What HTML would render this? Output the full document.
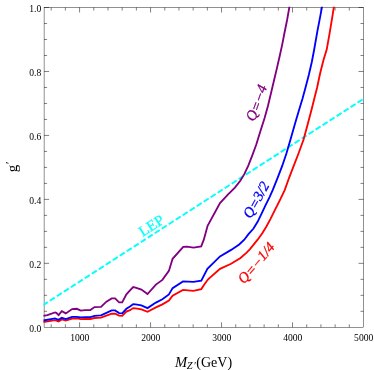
<!DOCTYPE html>
<html><head><meta charset="utf-8"><title>plot</title>
<style>
html,body{margin:0;padding:0;background:#fff;}
svg{display:block;will-change:transform;font-family:"Liberation Serif",serif;}
</style></head>
<body>
<svg width="374" height="370" viewBox="0 0 374 370">
<rect width="374" height="370" fill="#fff"/>
<defs><clipPath id="c"><rect x="43.300000000000004" y="6.7" width="320.2" height="320.6"/></clipPath></defs>
<g fill="none" stroke="#000" stroke-width="0.43">
<rect x="44.1" y="7.5" width="319.4" height="319.8"/>
<path d="M51.20 327.30 v-3.00 M51.20 7.50 v3.00 M65.39 327.30 v-3.00 M65.39 7.50 v3.00 M79.59 327.30 v-5.00 M79.59 7.50 v5.00 M93.78 327.30 v-3.00 M93.78 7.50 v3.00 M107.98 327.30 v-3.00 M107.98 7.50 v3.00 M122.18 327.30 v-3.00 M122.18 7.50 v3.00 M136.37 327.30 v-3.00 M136.37 7.50 v3.00 M150.57 327.30 v-5.00 M150.57 7.50 v5.00 M164.76 327.30 v-3.00 M164.76 7.50 v3.00 M178.96 327.30 v-3.00 M178.96 7.50 v3.00 M193.15 327.30 v-3.00 M193.15 7.50 v3.00 M207.35 327.30 v-3.00 M207.35 7.50 v3.00 M221.54 327.30 v-5.00 M221.54 7.50 v5.00 M235.74 327.30 v-3.00 M235.74 7.50 v3.00 M249.94 327.30 v-3.00 M249.94 7.50 v3.00 M264.13 327.30 v-3.00 M264.13 7.50 v3.00 M278.33 327.30 v-3.00 M278.33 7.50 v3.00 M292.52 327.30 v-5.00 M292.52 7.50 v5.00 M306.72 327.30 v-3.00 M306.72 7.50 v3.00 M320.91 327.30 v-3.00 M320.91 7.50 v3.00 M335.11 327.30 v-3.00 M335.11 7.50 v3.00 M349.30 327.30 v-3.00 M349.30 7.50 v3.00 M44.10 311.31 h3.00 M363.50 311.31 h-3.00 M44.10 295.32 h3.00 M363.50 295.32 h-3.00 M44.10 279.33 h3.00 M363.50 279.33 h-3.00 M44.10 263.34 h5.00 M363.50 263.34 h-5.00 M44.10 247.35 h3.00 M363.50 247.35 h-3.00 M44.10 231.36 h3.00 M363.50 231.36 h-3.00 M44.10 215.37 h3.00 M363.50 215.37 h-3.00 M44.10 199.38 h5.00 M363.50 199.38 h-5.00 M44.10 183.39 h3.00 M363.50 183.39 h-3.00 M44.10 167.40 h3.00 M363.50 167.40 h-3.00 M44.10 151.41 h3.00 M363.50 151.41 h-3.00 M44.10 135.42 h5.00 M363.50 135.42 h-5.00 M44.10 119.43 h3.00 M363.50 119.43 h-3.00 M44.10 103.44 h3.00 M363.50 103.44 h-3.00 M44.10 87.45 h3.00 M363.50 87.45 h-3.00 M44.10 71.46 h5.00 M363.50 71.46 h-5.00 M44.10 55.47 h3.00 M363.50 55.47 h-3.00 M44.10 39.48 h3.00 M363.50 39.48 h-3.00 M44.10 23.49 h3.00 M363.50 23.49 h-3.00 M44.10 7.50 h5.00 M363.50 7.50 h-5.00" stroke-width="0.5"/>
</g>
<g clip-path="url(#c)" fill="none" stroke-linejoin="miter" stroke-miterlimit="3" stroke-linecap="butt">
<path d="M43.300000000000004 304.96 L363.5 98.87" stroke="#00ffff" stroke-width="1.9700000000000002" stroke-dasharray="5.9 2.42" stroke-dashoffset="0.6"/>
<path d="M43.3 322.2 L55.0 320.1 L58.6 321.4 L61.8 319.4 L65.8 320.6 L72.1 318.6 L76.8 318.4 L80.8 319.1 L85.0 319.0 L90.3 319.0 L94.6 318.0 L101.0 317.7 L106.4 315.6 L111.7 313.7 L115.1 313.7 L119.1 315.7 L122.2 315.9 L126.4 311.6 L130.0 310.2 L133.2 308.1 L135.5 308.4 L141.4 309.4 L147.5 311.8 L155.9 307.4 L162.4 304.4 L168.9 300.6 L172.6 295.6 L183.0 289.9 L193.4 290.9 L201.3 289.1 L204.1 284.7 L208.1 279.3 L220.0 268.8 L231.1 263.8 L240.5 258.0 L246.6 252.6 L250.0 249.2 L257.6 239.7 L262.3 233.2 L266.4 226.5 L270.4 219.1 L275.1 209.6 L279.9 200.1 L284.8 189.9 L289.1 177.8 L293.8 165.7 L298.5 153.5 L303.5 139.7 L307.5 125.0 L311.2 111.0 L314.2 99.0 L317.0 88.0 L320.2 73.0 L323.5 60.0 L326.7 49.6 L329.5 33.8 L332.2 17.6 L333.9 6.8 L334.5 3.0" stroke="#ff0000" stroke-width="1.85"/>
<path d="M43.3 320.5 L55.0 318.4 L58.6 319.8 L61.8 317.8 L65.8 319.1 L72.1 316.9 L76.8 316.9 L80.8 317.4 L85.0 317.1 L90.3 317.1 L94.6 315.9 L101.0 315.4 L106.4 312.8 L111.7 310.4 L115.1 310.4 L119.1 313.1 L122.2 313.4 L126.4 308.8 L130.0 306.6 L133.2 304.1 L135.5 304.4 L141.4 305.4 L147.5 308.1 L155.9 302.6 L162.4 299.2 L168.9 294.4 L172.6 288.1 L183.0 281.4 L193.4 281.9 L201.3 280.7 L207.4 268.8 L220.0 256.4 L231.1 249.9 L239.2 244.5 L244.3 239.7 L248.1 234.6 L253.5 228.5 L257.6 221.8 L261.6 213.6 L265.7 204.9 L269.7 196.8 L272.8 189.9 L277.6 177.8 L282.3 165.7 L286.4 153.5 L290.5 139.6 L295.2 123.0 L298.9 110.5 L302.4 99.0 L305.4 88.0 L308.8 75.0 L311.8 62.0 L314.1 50.0 L317.4 31.1 L320.0 17.6 L322.0 6.8 L322.7 3.0" stroke="#0000ff" stroke-width="1.85"/>
<path d="M43.3 315.9 L47.4 315.1 L55.0 312.4 L56.3 312.9 L58.6 315.1 L61.8 311.1 L65.8 313.4 L72.1 309.1 L76.8 308.8 L80.8 310.6 L85.0 310.1 L90.3 310.1 L94.6 307.1 L101.0 306.8 L106.4 301.7 L111.7 298.4 L115.1 298.4 L119.1 302.4 L122.2 302.4 L126.4 294.4 L130.0 290.4 L133.2 287.1 L135.5 287.6 L141.4 289.6 L147.5 294.1 L155.9 284.6 L162.4 279.9 L168.9 270.9 L172.6 258.8 L183.2 246.8 L187.0 246.7 L193.5 247.6 L201.2 246.3 L203.8 239.7 L207.6 225.8 L220.0 203.1 L228.1 194.3 L234.9 187.6 L240.3 180.8 L244.3 174.1 L248.4 165.3 L252.4 155.1 L256.2 144.8 L260.3 131.5 L264.6 118.0 L268.0 105.8 L271.8 89.8 L274.4 78.8 L277.1 67.4 L279.7 56.0 L282.2 44.6 L284.6 32.3 L287.1 20.0 L289.4 6.8 L290.1 3.0" stroke="#800080" stroke-width="1.85"/>
</g>
<g font-size="9.6px" fill="#000"><text x="79.79" y="341.05" text-anchor="middle">1000</text><text x="150.77" y="341.05" text-anchor="middle">2000</text><text x="221.74" y="341.05" text-anchor="middle">3000</text><text x="292.72" y="341.05" text-anchor="middle">4000</text><text x="363.70" y="341.05" text-anchor="middle">5000</text><text x="41.3" y="331.90" text-anchor="end">0.0</text><text x="41.3" y="267.94" text-anchor="end">0.2</text><text x="41.3" y="203.98" text-anchor="end">0.4</text><text x="41.3" y="140.02" text-anchor="end">0.6</text><text x="41.3" y="76.06" text-anchor="end">0.8</text><text x="41.3" y="12.10" text-anchor="end">1.0</text></g>
<g font-size="14.5px" font-style="italic" text-anchor="middle" stroke-width="0.3">
<text transform="translate(256.8 102.1) rotate(-70)" fill="#800080" stroke="#800080" x="-0.8" y="4.7">Q<tspan dy="0.8">=−</tspan><tspan dy="-0.8">4</tspan></text>
<text transform="translate(256.55 199.25) rotate(-61)" fill="#0000ff" stroke="#0000ff" x="-0.8" y="4.7">Q<tspan dy="0.6">=</tspan><tspan dy="-0.6">3/2</tspan></text>
<text transform="translate(256.7 262.3) rotate(-49.5)" fill="#ff0000" stroke="#ff0000" x="-0.8" y="4.7">Q<tspan dy="0.8">=−</tspan><tspan dy="-0.8">1/4</tspan></text>
</g>
<text transform="translate(151.4 225.7) rotate(-33)" text-anchor="middle" fill="#00ffff" stroke="#00ffff" stroke-width="0.25" font-size="15px" y="4.7">LEP</text>
<text transform="translate(16.5 172.3) rotate(-90)" font-size="15px" fill="#000">g<tspan dy="-2.6" dx="0.6" font-size="13px">′</tspan></text>
<text x="175" y="367" font-size="14px" fill="#000"><tspan font-style="italic" font-size="14.6px">M</tspan><tspan font-style="italic" font-size="10.5px" dy="2.4" dx="-0.4">Z</tspan><tspan font-style="italic" font-size="10px" dx="0.8">′</tspan><tspan dy="-2.4" dx="0.7">(GeV)</tspan></text>
</svg>
</body></html>
